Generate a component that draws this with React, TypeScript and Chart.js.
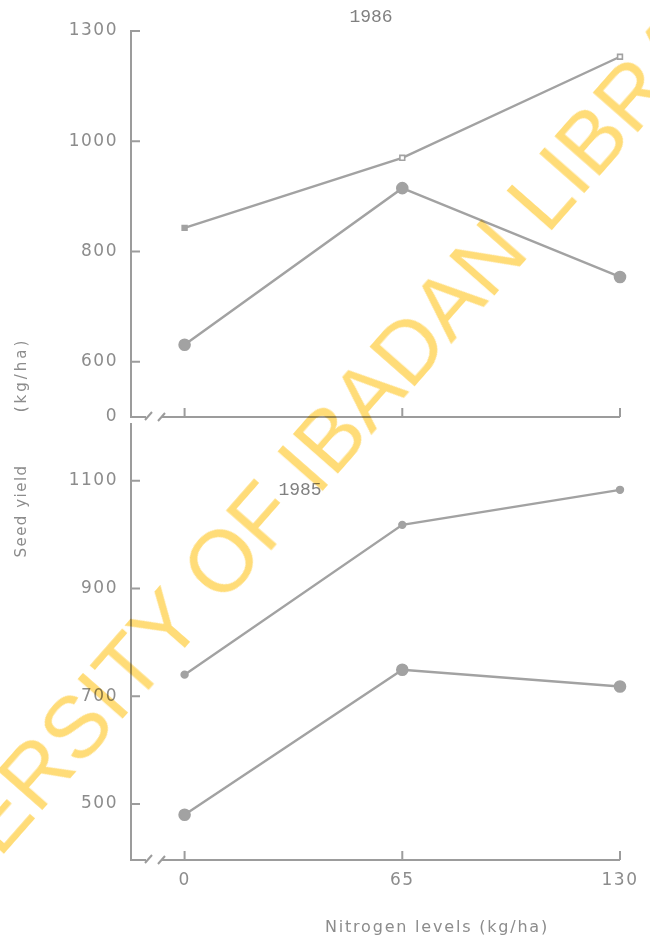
import { useEffect, useRef } from 'react';
import { Chart, registerables, LinearScale } from 'chart.js';

// Nitrogen rates (kg/ha) on the shared x axis
const nitrogenLevels = [0, 65, 130];
const xTickValues = [0, 65, 130];

// 1986 season, seed yield (kg/ha)
const yield1986High = [843, 970, 1230];
const yield1986Low = [631, 915, 754];
const yTicks1986 = [0, 600, 800, 1000, 1300];

// 1985 season, seed yield (kg/ha)
const yield1985High = [740, 1018, 1083];
const yield1985Low = [480, 749, 718];
const yTicks1985 = [500, 700, 900, 1100];

const LINE = '#a2a2a2';
const AXIS = '#9c9c9c';
const TEXT = '#8c8c8c';
const SANS = '"DejaVu Sans", sans-serif';
const MONO = '"Liberation Mono", monospace';

// Axis whose labelled stops sit one step apart, with the first stretch (0 up to
// the next stop) shortened to `breakStep` of a step -- the broken axis of the upper panel.
class BrokenLinearScale extends LinearScale {
  static id = 'brokenLinear';
  static defaults = {};

  stopInfo() {
    const o: any = this.options;
    const stops: number[] = o.stops || yTicks1986;
    const gap: number = o.breakStep ?? 0.5;
    const slots = stops.map((_, i) => (i === 0 ? 0 : gap + (i - 1)));
    return { stops, slots, total: slots[slots.length - 1] };
  }

  determineDataLimits() {
    const { stops } = this.stopInfo();
    this.min = stops[0];
    this.max = stops[stops.length - 1];
  }

  buildTicks() {
    return this.stopInfo().stops.map((value) => ({ value }));
  }

  getPixelForValue(value: number) {
    const { stops, slots, total } = this.stopInfo();
    let i = 1;
    while (i < stops.length - 1 && value > stops[i]) i++;
    const t = (value - stops[i - 1]) / (stops[i] - stops[i - 1]);
    const slot = slots[i - 1] + t * (slots[i] - slots[i - 1]);
    return this.getPixelForDecimal(slot / total);
  }

  getValueForPixel(pixel: number) {
    const { stops, slots, total } = this.stopInfo();
    const slot = this.getDecimalForPixel(pixel) * total;
    let i = 1;
    while (i < slots.length - 1 && slot > slots[i]) i++;
    const t = (slot - slots[i - 1]) / (slots[i] - slots[i - 1]);
    return stops[i - 1] + t * (stops[i] - stops[i - 1]);
  }
}

Chart.register(...registerables, BrokenLinearScale);

const points = (ys: number[]) => nitrogenLevels.map((x, i) => ({ x, y: ys[i] }));

// Hand-drawn style axes: inward ticks, a broken x axis near the origin, panel year label
const panelDecor = {
  id: 'panelDecor',
  beforeUpdate(chart: any) {
    chart.ctx.letterSpacing = '1.5px';
  },
  beforeDraw(chart: any) {
    chart.ctx.letterSpacing = '1.5px';
  },
  afterDraw(chart: any, _args: any, opts: any) {
    const { ctx, chartArea: a, scales } = chart;
    const x = scales.x;
    const y = scales.y;
    const b = a.bottom;
    const l = a.left;
    ctx.save();
    ctx.strokeStyle = AXIS;
    ctx.lineWidth = 2;
    ctx.lineCap = 'butt';
    ctx.beginPath();
    ctx.moveTo(l, b);
    ctx.lineTo(l + 15, b);
    ctx.moveTo(l + 14, b + 3);
    ctx.lineTo(l + 21, b - 5);
    ctx.moveTo(l + 27, b + 4);
    ctx.lineTo(l + 34, b - 4);
    ctx.moveTo(l + 31, b);
    ctx.lineTo(a.right, b);
    for (const v of xTickValues) {
      const px = x.getPixelForValue(v);
      ctx.moveTo(px, b);
      ctx.lineTo(px, b - 9);
    }
    for (const t of y.ticks) {
      const py = y.getPixelForValue(t.value);
      if (Math.abs(py - b) < 2) continue;
      ctx.moveTo(l, py);
      ctx.lineTo(l + 9, py);
    }
    ctx.stroke();

    ctx.letterSpacing = '0px';
    ctx.textAlign = 'center';
    ctx.textBaseline = 'middle';
    if (opts.title) {
      ctx.fillStyle = '#808080';
      ctx.font = `18px ${MONO}`;
      ctx.fillText(opts.title, opts.titleX, opts.titleY);
    }
    if (opts.xTitle) {
      ctx.fillStyle = TEXT;
      ctx.font = `16px ${SANS}`;
      ctx.letterSpacing = '1.8px';
      ctx.fillText(opts.xTitle, opts.xTitleX, opts.xTitleY);
    }
    ctx.restore();
  },
};

const fitY = (scale: any) => {
  scale.width = 131;
  scale.paddingTop = 0;
  scale.paddingBottom = 0;
};

const tickFont = { family: SANS, size: 17 };

function baseOptions() {
  return {
    animation: false,
    responsive: false,
    devicePixelRatio: 1,
    events: [],
    plugins: { legend: { display: false }, tooltip: { enabled: false } },
  };
}

function lineSet(ys: number[], big: boolean, hollow = false) {
  return {
    data: points(ys),
    borderColor: LINE,
    borderWidth: 2.4,
    pointStyle: big ? 'circle' : hollow ? 'rect' : 'circle',
    pointRadius: big ? 5.5 : 3.4,
    pointBackgroundColor: hollow ? [LINE, '#ffffff', '#ffffff'] : LINE,
    pointBorderColor: LINE,
    pointBorderWidth: 1.6,
    clip: false,
  };
}

export default function App() {
  const topRef = useRef<HTMLCanvasElement>(null);
  const botRef = useRef<HTMLCanvasElement>(null);

  useEffect(() => {
    const top = new Chart(topRef.current as HTMLCanvasElement, {
      type: 'line',
      data: { datasets: [lineSet(yield1986High, false, true), lineSet(yield1986Low, true)] as any },
      options: {
        ...baseOptions(),
        layout: { padding: { top: 31, bottom: 15, right: 30, left: 0 } },
        plugins: {
          ...baseOptions().plugins,
          panelDecor: { title: '1986', titleX: 371, titleY: 17 },
        },
        scales: {
          x: { type: 'linear', min: -16, max: 130, display: false },
          y: {
            type: 'brokenLinear',
            stops: yTicks1986,
            breakStep: 0.5,
            grid: { drawOnChartArea: false, drawTicks: false },
            border: { display: true, color: AXIS, width: 2 },
            ticks: { padding: 13, color: TEXT, font: tickFont, callback: (v: any) => String(v) },
            afterFit: fitY,
          },
        },
      } as any,
      plugins: [panelDecor],
    });

    const bottom = new Chart(botRef.current as HTMLCanvasElement, {
      type: 'line',
      data: { datasets: [lineSet(yield1985High, false), lineSet(yield1985Low, true)] as any },
      options: {
        ...baseOptions(),
        layout: { padding: { top: 0, bottom: 0, right: 30, left: 0 } },
        plugins: {
          ...baseOptions().plugins,
          panelDecor: {
            title: '1985',
            titleX: 300,
            titleY: 73,
            xTitle: 'Nitrogen levels (kg/ha)',
            xTitleX: 437,
            xTitleY: 511,
          },
        },
        scales: {
          x: {
            type: 'linear',
            min: -16,
            max: 130,
            grid: { display: false, drawTicks: false },
            border: { display: false },
            ticks: { padding: 10, color: TEXT, font: tickFont, autoSkip: false, maxRotation: 0, callback: (v: any) => String(v) },
            afterBuildTicks: (s: any) => {
              s.ticks = xTickValues.map((value) => ({ value }));
            },
            afterFit: (s: any) => {
              s.height = 84;
              s.paddingLeft = 0;
              s.paddingRight = 0;
            },
          },
          y: {
            type: 'linear',
            min: 396,
            max: 1205,
            grid: { drawOnChartArea: false, drawTicks: false },
            border: { display: true, color: AXIS, width: 2 },
            ticks: { padding: 13, color: TEXT, font: tickFont, callback: (v: any) => String(v) },
            afterBuildTicks: (s: any) => {
              s.ticks = yTicks1985.map((value) => ({ value }));
            },
            afterFit: fitY,
          },
        },
      } as any,
      plugins: [panelDecor],
    });

    return () => {
      top.destroy();
      bottom.destroy();
    };
  }, []);

  const yTitle = {
    position: 'absolute' as const,
    left: 21,
    transform: 'translate(-50%, -50%) rotate(-90deg)',
    whiteSpace: 'nowrap' as const,
    font: `15px ${SANS}`,
    color: TEXT,
    letterSpacing: '1.5px',
    lineHeight: 1,
  };

  return (
    <div
      style={{
        position: 'absolute',
        left: 0,
        top: 0,
        width: 650,
        height: 944,
        overflow: 'hidden',
        background: '#ffffff',
      }}
    >
      <canvas ref={topRef} width={650} height={432} style={{ position: 'absolute', left: 0, top: 0 }} />
      <canvas ref={botRef} width={650} height={527} style={{ position: 'absolute', left: 0, top: 417 }} />
      <div style={{ ...yTitle, top: 511 }}>Seed yield</div>
      <div style={{ ...yTitle, top: 375, letterSpacing: '3px' }}>(kg/ha)</div>
      <div
        style={{
          position: 'absolute',
          left: 304,
          top: 466,
          transform: 'translate(-50%, -50%) rotate(-48.7deg)',
          whiteSpace: 'nowrap',
          font: '87px "Liberation Sans", Arial, sans-serif',
          lineHeight: 1,
          color: 'rgb(255, 220, 120)',
          mixBlendMode: 'multiply',
          pointerEvents: 'none',
        }}
      >
        UNIVERSITY OF IBADAN LIBRARY
      </div>
    </div>
  );
}
